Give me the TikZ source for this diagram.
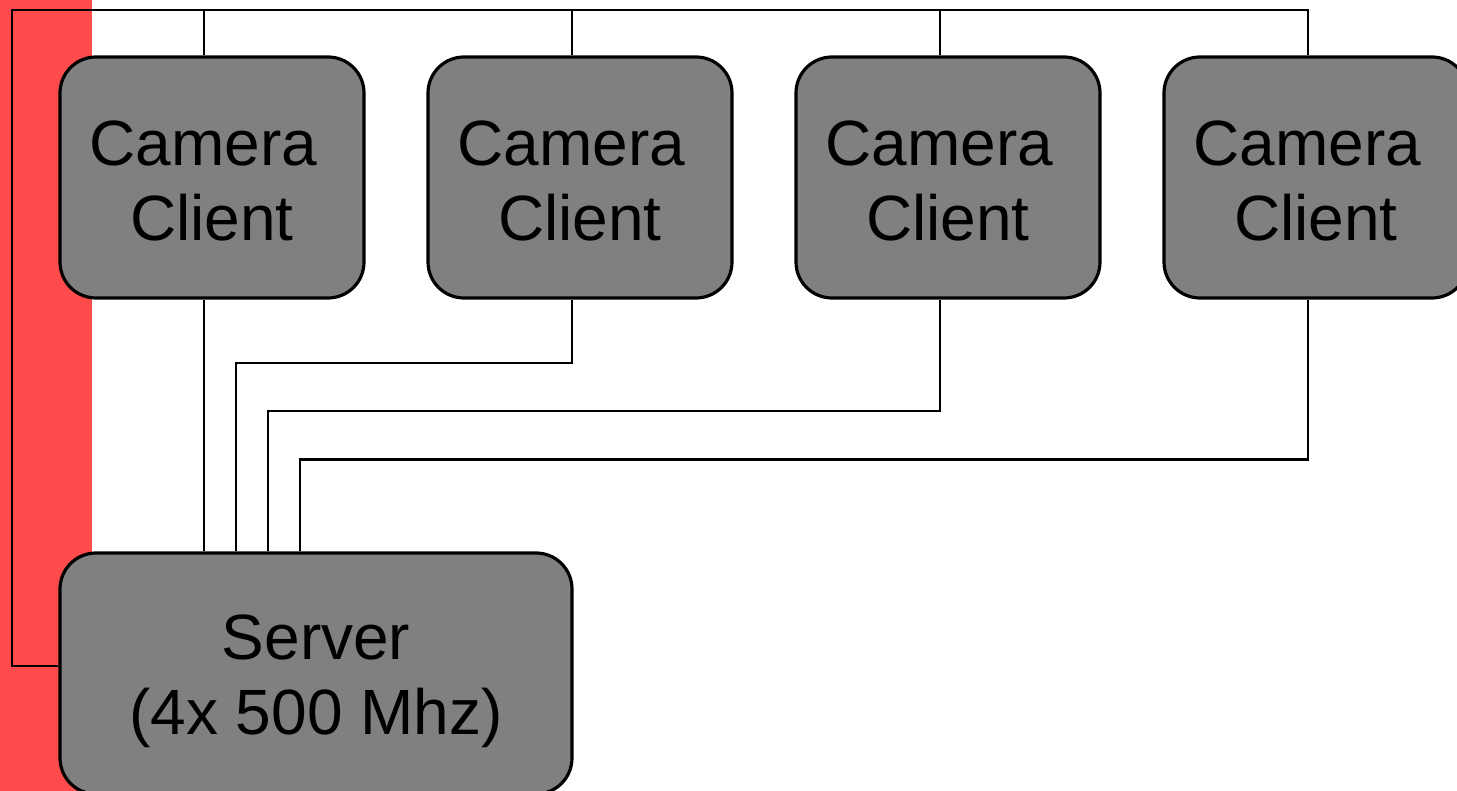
\documentclass[tikz,border=0pt]{standalone}
\usepackage{fontspec}
\setmainfont{Liberation Sans}
\definecolor{bandred}{HTML}{FF4B4B}
\definecolor{boxgray}{HTML}{808080}
\begin{document}
\begin{tikzpicture}[x=1pt,y=-1pt,
  box/.style={draw=black,line width=3.2pt,fill=boxgray,rounded corners=36pt,inner sep=0pt,
    align=center,font=\fontsize{64}{75}\selectfont},
  cam/.style={box,minimum width=304pt,minimum height=241pt},
  wire/.style={draw=black,line width=2.8pt}]
\useasboundingbox (0,0) rectangle (1457,791);
\fill[bandred] (0,0) rectangle (92,791);
\node[cam] (c1) at (212,177.5) {\rule{0pt}{52pt}Camera\hspace*{17.5pt}\\Client};
\node[cam] (c2) at (580,177.5) {\rule{0pt}{52pt}Camera\hspace*{17.5pt}\\Client};
\node[cam] (c3) at (948,177.5) {\rule{0pt}{52pt}Camera\hspace*{17.5pt}\\Client};
\node[cam] (c4) at (1316,177.5) {\rule{0pt}{52pt}Camera\hspace*{17.5pt}\\Client};
\node[box,minimum width=512pt,minimum height=241pt] (srv) at (316,673.5) {\rule{0pt}{61pt}Server\\(4x 500 Mhz)};
\coordinate (tl) at (12,10);
% top bus
\draw[wire] ([xshift=-8pt]c4.north) |- (tl) |- ([yshift=7.5pt]srv.west);
\draw[wire] ([xshift=-8pt]c1.north) -- ([xshift=-8pt]c1.north |- tl);
\draw[wire] ([xshift=-8pt]c2.north) -- ([xshift=-8pt]c2.north |- tl);
\draw[wire] ([xshift=-8pt]c3.north) -- ([xshift=-8pt]c3.north |- tl);
% links to server
\draw[wire] ([xshift=-8pt]c1.south) -- ([xshift=-112pt]srv.north);
\draw[wire] ([xshift=-8pt]c2.south) -- ++(0,63.5) -| ([xshift=-80pt]srv.north);
\draw[wire] ([xshift=-8pt]c3.south) -- ++(0,111.5) -| ([xshift=-48pt]srv.north);
\draw[wire] ([xshift=-8pt]c4.south) -- ++(0,160) -| ([xshift=-16pt]srv.north);
\end{tikzpicture}
\end{document}
